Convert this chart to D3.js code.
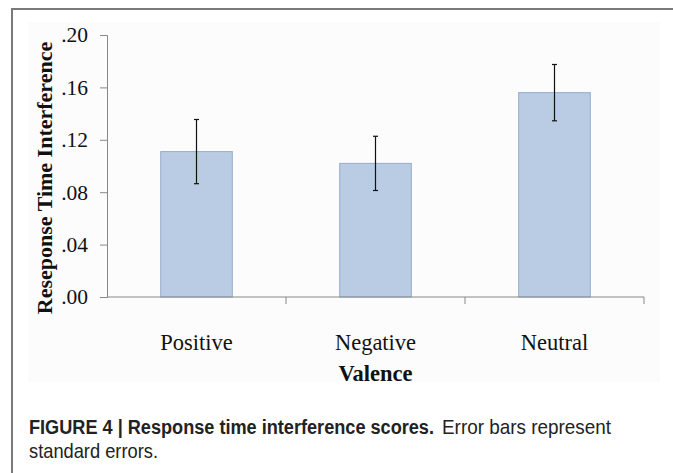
<!DOCTYPE html>
<html>
<head>
<meta charset="utf-8">
<script src="https://cdn.jsdelivr.net/npm/d3@7"></script>
<style>
  body { margin: 0; background: #fff; }
  svg { display: block; }
</style>
</head>
<body>
<div id="canvas"></div>
<script>
// data
const categories = ["Positive", "Negative", "Neutral"];
const means = [0.111, 0.102, 0.156];
const stdErrors = [0.0245, 0.0207, 0.0215];
const yTicks = [0, 0.04, 0.08, 0.12, 0.16, 0.20];

const width = 673;
const height = 473;
const plot = { left: 107, right: 644, top: 35, bottom: 297 };
const serif = "'Liberation Serif', 'Times New Roman', serif";
const sans = "'Liberation Sans Narrow', 'Liberation Sans', Arial, sans-serif";

const svg = d3.select("#canvas")
  .append("svg")
  .attr("width", width)
  .attr("height", height);

// figure frame
svg.append("rect")
  .attr("x", 12).attr("y", 9)
  .attr("width", 680).attr("height", 480)
  .attr("fill", "none")
  .attr("stroke", "#7a7a7a")
  .attr("stroke-width", 2);

// faint chart area background
svg.append("rect")
  .attr("x", 28).attr("y", 22)
  .attr("width", 632).attr("height", 360)
  .attr("fill", "#fcfcfc");

const x = d3.scaleBand()
  .domain(categories)
  .range([plot.left, plot.right])
  .paddingInner(0.6)
  .paddingOuter(0.3);

const y = d3.scaleLinear()
  .domain([0, 0.20])
  .range([plot.bottom, plot.top]);

// bars
svg.append("g")
  .selectAll("rect")
  .data(categories)
  .join("rect")
  .attr("x", d => x(d))
  .attr("y", (d, i) => y(means[i]))
  .attr("width", x.bandwidth())
  .attr("height", (d, i) => y(0) - y(means[i]))
  .attr("fill", "#b9cce4")
  .attr("stroke", "#93adcc")
  .attr("stroke-width", 1);

// error bars
const err = svg.append("g").attr("stroke", "#111").attr("stroke-width", 1.2);
categories.forEach((c, i) => {
  const cx = x(c) + x.bandwidth() / 2;
  const hi = y(means[i] + stdErrors[i]);
  const lo = y(means[i] - stdErrors[i]);
  err.append("line").attr("x1", cx).attr("x2", cx).attr("y1", hi).attr("y2", lo);
  err.append("line").attr("x1", cx - 2.5).attr("x2", cx + 2.5).attr("y1", hi).attr("y2", hi);
  err.append("line").attr("x1", cx - 2.5).attr("x2", cx + 2.5).attr("y1", lo).attr("y2", lo);
});

// y axis
const yAxis = svg.append("g")
  .attr("transform", "translate(" + plot.left + ",0)")
  .call(d3.axisLeft(y).tickValues(yTicks).tickSize(7).tickPadding(12)
    .tickFormat(d => d3.format(".2f")(d).replace(/^0/, "")));
yAxis.selectAll("line, path").attr("stroke", "#888");
yAxis.selectAll("text")
  .attr("font-family", serif)
  .attr("font-size", 21.5)
  .attr("fill", "#111");

// x axis with category boundary ticks
const xAxisG = svg.append("g").attr("transform", "translate(0," + plot.bottom + ")");
xAxisG.append("line")
  .attr("x1", plot.left).attr("x2", plot.right)
  .attr("stroke", "#888");
const bounds = categories.map(c => x(c) - x.step() * x.paddingInner() / 2).slice(1).concat([plot.right]);
xAxisG.selectAll("line.tk")
  .data(bounds)
  .join("line")
  .attr("class", "tk")
  .attr("x1", d => d).attr("x2", d => d)
  .attr("y1", 0).attr("y2", 7)
  .attr("stroke", "#888");

svg.append("g")
  .selectAll("text")
  .data(categories)
  .join("text")
  .attr("x", d => x(d) + x.bandwidth() / 2)
  .attr("y", 350)
  .attr("text-anchor", "middle")
  .attr("font-family", serif)
  .attr("font-size", 22.5)
  .attr("fill", "#111")
  .text(d => d);

// axis titles
svg.append("text")
  .attr("x", (plot.left + plot.right) / 2)
  .attr("y", 381)
  .attr("text-anchor", "middle")
  .attr("font-family", serif)
  .attr("font-weight", "bold")
  .attr("font-size", 22.5)
  .attr("fill", "#111")
  .text("Valence");

svg.append("text")
  .attr("transform", "translate(52," + 178 + ") rotate(-90)")
  .attr("text-anchor", "middle")
  .attr("font-family", serif)
  .attr("font-weight", "bold")
  .attr("font-size", 22)
  .attr("fill", "#111")
  .text("Reseponse Time Interference");

// caption: slightly condensed, taller face like the journal's
function caption(str, x0, y0, len, bold) {
  svg.append("text")
    .attr("transform", "translate(" + x0 + "," + y0 + ") scale(1,1.08)")
    .attr("font-family", sans)
    .attr("font-size", 18)
    .attr("font-weight", bold ? "bold" : "normal")
    .attr("fill", "#222")
    .attr("textLength", len)
    .attr("lengthAdjust", "spacingAndGlyphs")
    .text(str);
}
caption("FIGURE 4 | Response time interference scores.", 29, 434, 405, true);
caption("Error bars represent", 442, 434, 169, false);
caption("standard errors.", 29, 458, 129, false);
</script>
</body>
</html>
